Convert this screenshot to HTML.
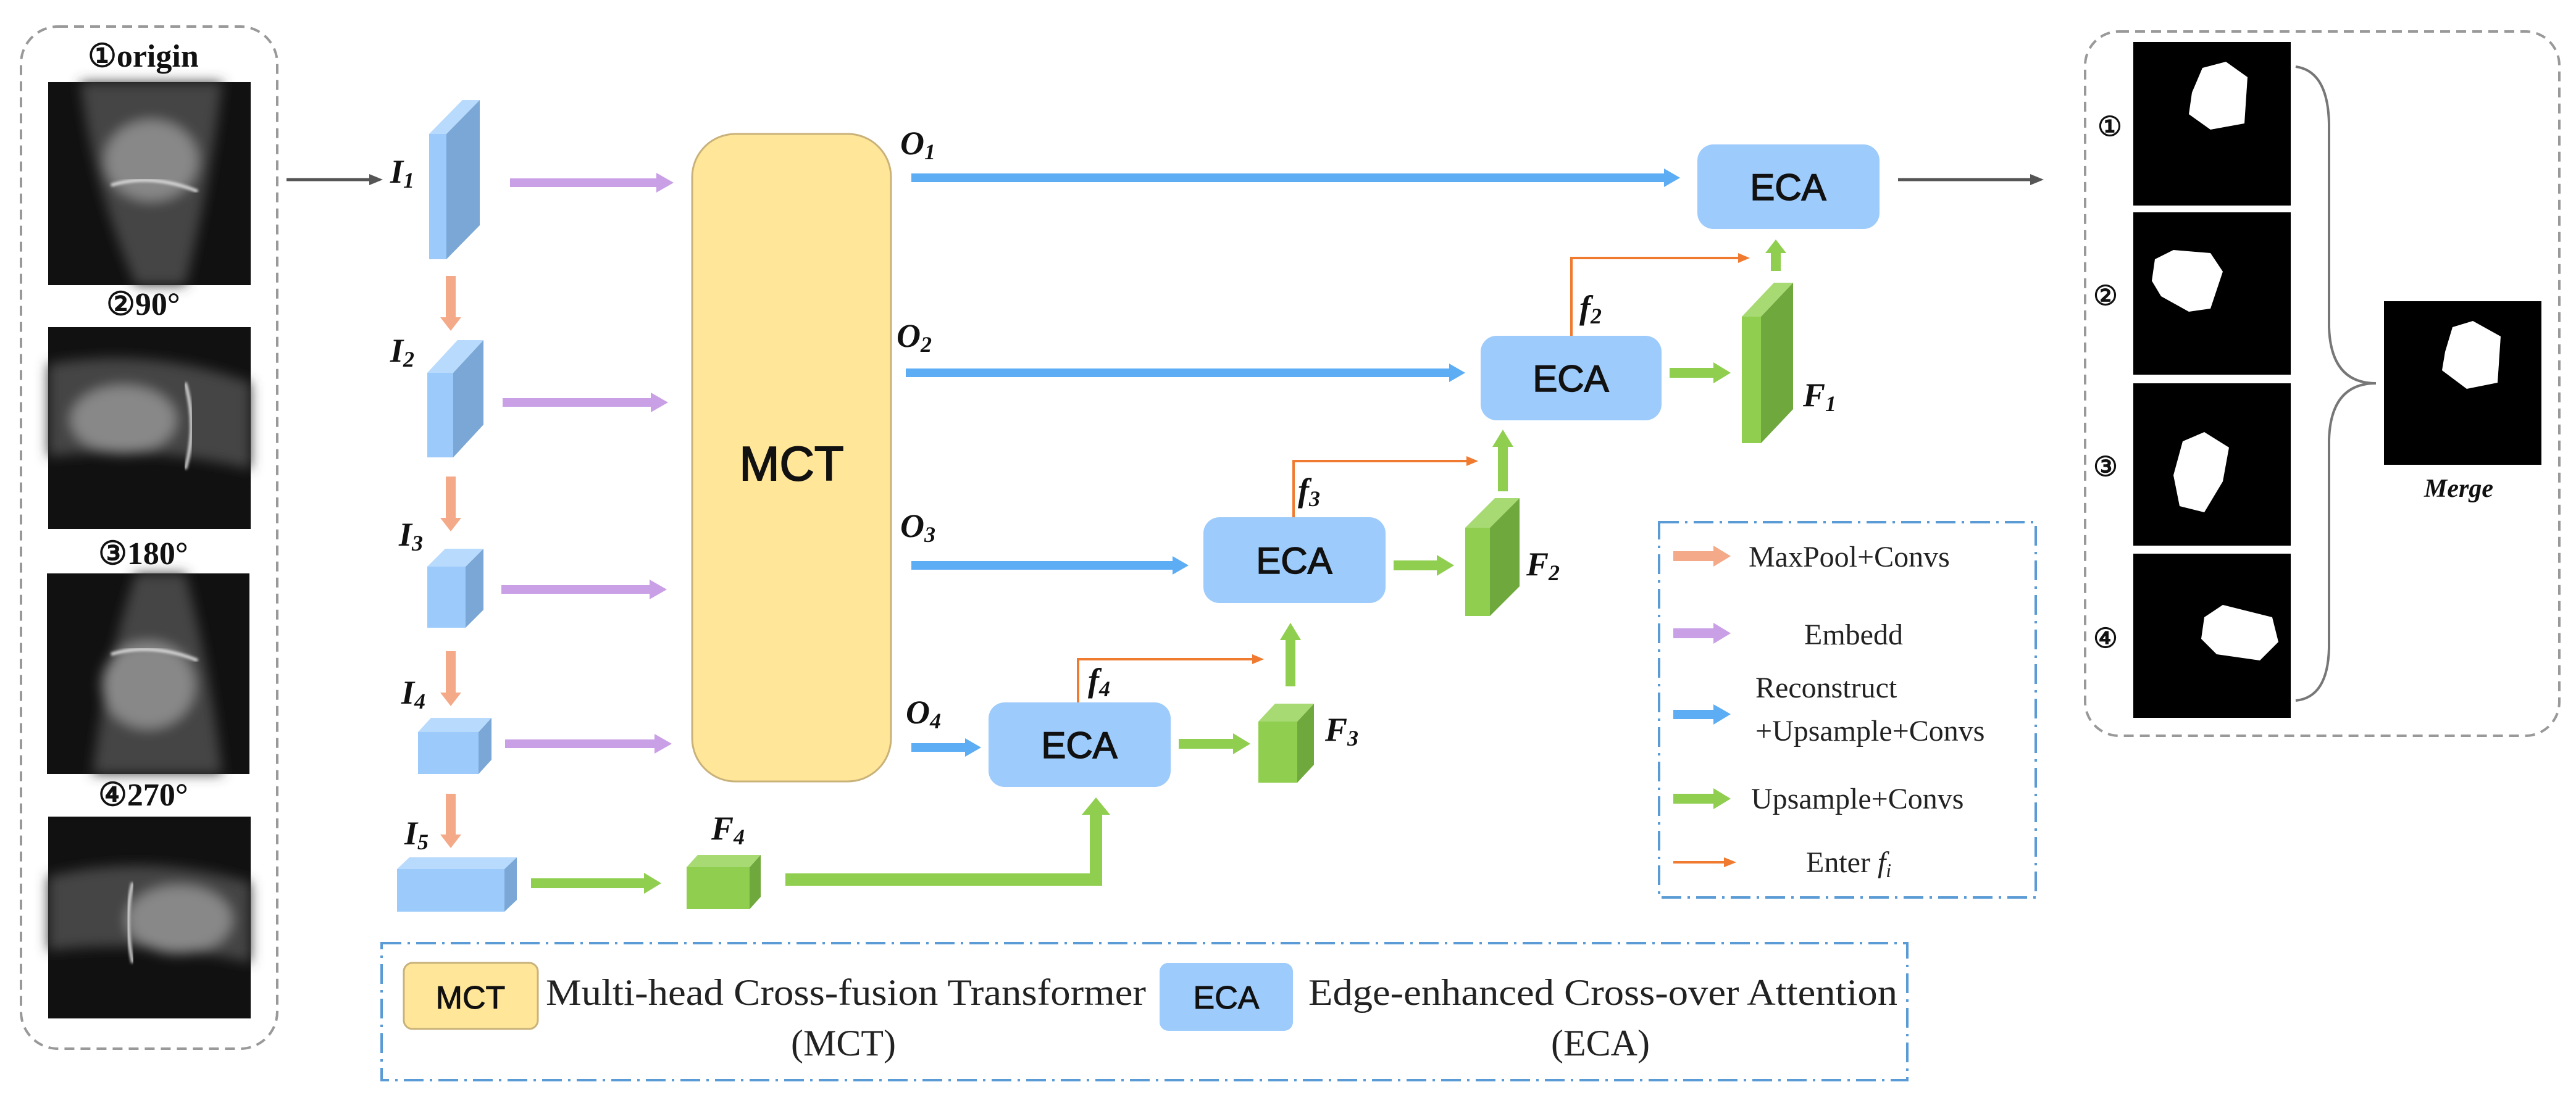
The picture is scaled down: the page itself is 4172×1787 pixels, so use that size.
<!DOCTYPE html>
<html><head><meta charset="utf-8"><style>html,body{margin:0;padding:0;background:#fff}svg{display:block}</style></head>
<body>
<svg xmlns="http://www.w3.org/2000/svg" width="4172" height="1787" viewBox="0 0 4172 1787">
<defs>
<filter id="bl" x="-20%" y="-20%" width="140%" height="140%"><feGaussianBlur stdDeviation="10"/></filter>
<filter id="bl2"><feGaussianBlur stdDeviation="2"/></filter>
</defs>
<rect width="4172" height="1787" fill="#fff"/>

<!-- Left dashed box -->
<rect x="34" y="43" width="415" height="1656" rx="60" fill="none" stroke="#999" stroke-width="4" stroke-dasharray="16 10"/>
<g font-family="Liberation Serif, serif" font-weight="bold" font-size="52" fill="#111" text-anchor="middle">
<text x="232" y="108">①origin</text>
<text x="232" y="510">②90°</text>
<text x="232" y="914">③180°</text>
<text x="232" y="1305">④270°</text>
</g>
<!-- MRI images -->
<g>
<rect x="78" y="133" width="328" height="329" fill="#111"/>
<g filter="url(#bl)"><path d="M130 133 Q150 300 220 462 L300 462 Q340 300 360 133 Z" fill="#444"/><ellipse cx="245" cy="260" rx="75" ry="65" fill="#888"/></g>
<path d="M180 300 Q245 280 320 310" stroke="#ddd" stroke-width="5" fill="none" filter="url(#bl2)"/>
<rect x="78" y="530" width="328" height="327" fill="#111"/>
<g filter="url(#bl)"><path d="M78 590 Q240 560 406 620 L406 760 Q240 720 78 740 Z" fill="#444"/><ellipse cx="200" cy="680" rx="85" ry="55" fill="#888"/></g>
<path d="M300 620 Q320 690 300 760" stroke="#ddd" stroke-width="5" fill="none" filter="url(#bl2)"/>
<rect x="76" y="929" width="328" height="325" fill="#111"/>
<g filter="url(#bl)"><path d="M150 1254 Q170 1080 220 929 L300 929 Q340 1080 360 1254 Z" fill="#444"/><ellipse cx="240" cy="1110" rx="75" ry="70" fill="#888"/></g>
<path d="M180 1060 Q245 1040 320 1070" stroke="#ddd" stroke-width="5" fill="none" filter="url(#bl2)"/>
<rect x="78" y="1323" width="328" height="327" fill="#111"/>
<g filter="url(#bl)"><path d="M78 1420 Q240 1380 406 1430 L406 1560 Q240 1520 78 1540 Z" fill="#444"/><ellipse cx="290" cy="1490" rx="85" ry="55" fill="#888"/></g>
<path d="M215 1430 Q200 1490 215 1560" stroke="#ddd" stroke-width="5" fill="none" filter="url(#bl2)"/>
</g>

<!-- gray arrow in -->
<line x1="464" y1="291" x2="600" y2="291" stroke="#555" stroke-width="5"/>
<polygon points="598,282 620,291 598,300" fill="#555"/>

<!-- Encoder cuboids -->
<g>
<rect x="695" y="217" width="28" height="203" fill="#9CCBFB"/><polygon points="723,217 777,162 777,365 723,420" fill="#7BA7D6"/><polygon points="695,217 723,217 777,162 749,162" fill="#B8DAFC"/>
<rect x="692" y="604" width="42" height="137" fill="#9CCBFB"/><polygon points="734,604 783,551 783,688 734,741" fill="#7BA7D6"/><polygon points="692,604 734,604 783,551 741,551" fill="#B8DAFC"/>
<rect x="692" y="918" width="62" height="99" fill="#9CCBFB"/><polygon points="754,918 783,889 783,988 754,1017" fill="#7BA7D6"/><polygon points="692,918 754,918 783,889 721,889" fill="#B8DAFC"/>
<rect x="677" y="1186" width="98" height="68" fill="#9CCBFB"/><polygon points="775,1186 796,1163 796,1231 775,1254" fill="#7BA7D6"/><polygon points="677,1186 775,1186 796,1163 698,1163" fill="#B8DAFC"/>
<rect x="643" y="1408" width="174" height="69" fill="#9CCBFB"/><polygon points="817,1408 837,1389 837,1458 817,1477" fill="#7BA7D6"/><polygon points="643,1408 817,1408 837,1389 663,1389" fill="#B8DAFC"/>
</g>
<!-- Green cuboids -->
<g>
<rect x="1112" y="1405" width="102" height="68" fill="#8FCE4E"/><polygon points="1214,1405 1232,1385 1232,1453 1214,1473" fill="#6FA83C"/><polygon points="1112,1405 1214,1405 1232,1385 1130,1385" fill="#A8DA74"/>
<rect x="2038" y="1169" width="63" height="99" fill="#8FCE4E"/><polygon points="2101,1169 2128,1140 2128,1239 2101,1268" fill="#6FA83C"/><polygon points="2038,1169 2101,1169 2128,1140 2065,1140" fill="#A8DA74"/>
<rect x="2373" y="855" width="40" height="143" fill="#8FCE4E"/><polygon points="2413,855 2461,807 2461,950 2413,998" fill="#6FA83C"/><polygon points="2373,855 2413,855 2461,807 2421,807" fill="#A8DA74"/>
<rect x="2821" y="513" width="31" height="205" fill="#8FCE4E"/><polygon points="2852,513 2904,458 2904,663 2852,718" fill="#6FA83C"/><polygon points="2821,513 2852,513 2904,458 2873,458" fill="#A8DA74"/>
</g>

<!-- labels -->
<g font-family="Liberation Serif, serif" font-style="italic" font-weight="bold" font-size="54" fill="#111">
<text x="632" y="296">I<tspan font-size="36" dy="8">1</tspan></text>
<text x="632" y="586">I<tspan font-size="36" dy="8">2</tspan></text>
<text x="646" y="884">I<tspan font-size="36" dy="8">3</tspan></text>
<text x="650" y="1140">I<tspan font-size="36" dy="8">4</tspan></text>
<text x="655" y="1368">I<tspan font-size="36" dy="8">5</tspan></text>
<text x="1152" y="1360">F<tspan font-size="36" dy="8">4</tspan></text>
<text x="1458" y="250">O<tspan font-size="36" dy="8">1</tspan></text>
<text x="1452" y="562">O<tspan font-size="36" dy="8">2</tspan></text>
<text x="1458" y="870">O<tspan font-size="36" dy="8">3</tspan></text>
<text x="1467" y="1172">O<tspan font-size="36" dy="8">4</tspan></text>
<text x="2146" y="1200">F<tspan font-size="36" dy="8">3</tspan></text>
<text x="2472" y="932">F<tspan font-size="36" dy="8">2</tspan></text>
<text x="2920" y="658">F<tspan font-size="36" dy="8">1</tspan></text>
<text x="1762" y="1120">f<tspan font-size="36" dy="8">4</tspan></text>
<text x="2102" y="812">f<tspan font-size="36" dy="8">3</tspan></text>
<text x="2558" y="516">f<tspan font-size="36" dy="8">2</tspan></text>
</g>

<!-- Purple arrows -->
<g fill="#C9A0E6">
<polygon points="826,289 1063,289 1063,280 1091,296 1063,312 1063,303 826,303"/>
<polygon points="814,645 1054,645 1054,636 1082,652 1054,668 1054,659 814,659"/>
<polygon points="812,948 1052,948 1052,939 1080,955 1052,971 1052,962 812,962"/>
<polygon points="818,1198 1060,1198 1060,1189 1088,1205 1060,1221 1060,1212 818,1212"/>
</g>
<!-- Orange down arrows -->
<g fill="#F4A988">
<polygon points="722,447 738,447 738,514 747,514 730,536 713,514 722,514"/>
<polygon points="722,772 738,772 738,839 747,839 730,861 713,839 722,839"/>
<polygon points="722,1055 738,1055 738,1122 747,1122 730,1144 713,1122 722,1122"/>
<polygon points="722,1286 738,1286 738,1352 747,1352 730,1374 713,1352 722,1352"/>
</g>

<!-- MCT -->
<rect x="1121" y="217" width="322" height="1049" rx="70" fill="#FFE699" stroke="#C9B27A" stroke-width="3"/>
<text x="1282" y="778" font-family="Liberation Sans, sans-serif" font-size="78" fill="#111" stroke="#111" stroke-width="2" text-anchor="middle">MCT</text>

<!-- Blue arrows -->
<g fill="#5DADF5">
<polygon points="1476,281 2695,281 2695,273 2721,288 2695,303 2695,295 1476,295"/>
<polygon points="1467,597 2347,597 2347,589 2373,604 2347,619 2347,611 1467,611"/>
<polygon points="1476,909 1899,909 1899,901 1925,916 1899,931 1899,923 1476,923"/>
<polygon points="1476,1204 1563,1204 1563,1196 1589,1211 1563,1226 1563,1218 1476,1218"/>
</g>

<!-- ECA boxes -->
<g fill="#9DCBFB">
<rect x="1601" y="1138" width="295" height="137" rx="26"/>
<rect x="1949" y="838" width="295" height="139" rx="26"/>
<rect x="2398" y="544" width="293" height="137" rx="26"/>
<rect x="2749" y="234" width="295" height="137" rx="26"/>
</g>
<g font-family="Liberation Sans, sans-serif" font-size="60" fill="#111" stroke="#111" stroke-width="1.5" text-anchor="middle">
<text x="1748" y="1228">ECA</text>
<text x="2096" y="929">ECA</text>
<text x="2544" y="634">ECA</text>
<text x="2896" y="324">ECA</text>
</g>

<!-- Green arrows -->
<g fill="#8FCE4E">
<polygon points="860,1423 1043,1423 1043,1414 1071,1431 1043,1448 1043,1439 860,1439"/>
<polygon points="1272,1415 1765,1415 1765,1320 1752,1320 1775,1292 1798,1320 1785,1320 1785,1435 1272,1435"/>
<polygon points="1909,1197 1997,1197 1997,1188 2025,1205 1997,1222 1997,1213 1909,1213"/>
<polygon points="2082,1112 2098,1112 2098,1037 2107,1037 2090,1009 2073,1037 2082,1037"/>
<polygon points="2257,908 2327,908 2327,899 2355,916 2327,933 2327,924 2257,924"/>
<polygon points="2426,796 2442,796 2442,724 2451,724 2434,696 2417,724 2426,724"/>
<polygon points="2704,596 2775,596 2775,587 2803,604 2775,621 2775,612 2704,612"/>
<polygon points="2868,439 2884,439 2884,410 2893,410 2876,388 2859,410 2868,410"/>
</g>

<!-- Orange thin lines -->
<g stroke="#F07A30" stroke-width="4" fill="none">
<polyline points="1746,1138 1746,1068 2032,1068"/>
<polyline points="2095,838 2095,747 2379,747"/>
<polyline points="2545,544 2545,418 2819,418"/>
</g>
<g fill="#F07A30">
<polygon points="2028,1060 2047,1068 2028,1076"/>
<polygon points="2375,739 2394,747 2375,755"/>
<polygon points="2815,410 2834,418 2815,426"/>
</g>

<!-- output gray arrow -->
<line x1="3074" y1="291" x2="3290" y2="291" stroke="#555" stroke-width="5"/>
<polygon points="3288,282 3310,291 3288,300" fill="#555"/>

<!-- Right dashed box -->
<rect x="3377" y="51" width="768" height="1141" rx="55" fill="none" stroke="#999" stroke-width="4" stroke-dasharray="16 10"/>
<g font-family="Liberation Serif, serif" font-weight="bold" font-size="44" fill="#111" text-anchor="middle">
<text x="3417" y="220">①</text><text x="3410" y="494">②</text><text x="3410" y="771">③</text><text x="3410" y="1049">④</text>
</g>
<g>
<rect x="3455" y="68" width="255" height="265" fill="#000"/>
<polygon points="3567,110 3605,100 3640,125 3635,200 3580,210 3545,185 3550,150" fill="#fff"/>
<rect x="3455" y="344" width="255" height="263" fill="#000"/>
<polygon points="3490,420 3520,405 3580,410 3600,440 3580,500 3545,505 3500,480 3485,455" fill="#fff"/>
<rect x="3455" y="621" width="255" height="263" fill="#000"/>
<polygon points="3535,715 3570,700 3610,725 3600,780 3570,830 3530,820 3520,770" fill="#fff"/>
<rect x="3455" y="897" width="255" height="266" fill="#000"/>
<polygon points="3570,1000 3600,980 3680,1000 3690,1040 3660,1070 3590,1060 3565,1035" fill="#fff"/>
<rect x="3861" y="488" width="255" height="265" fill="#000"/>
<polygon points="3972,530 4005,520 4050,545 4045,620 3995,630 3955,600 3960,570" fill="#fff"/>
</g>
<path d="M3718 108 Q3770 115 3772 200 L3772 530 Q3775 621 3848 621 Q3775 621 3772 712 L3772 1050 Q3770 1130 3718 1135" fill="none" stroke="#777" stroke-width="4"/>
<text x="3982" y="805" font-family="Liberation Serif, serif" font-style="italic" font-weight="bold" font-size="42" fill="#111" text-anchor="middle">Merge</text>

<!-- Right legend -->
<rect x="2687" y="846" width="610" height="608" fill="none" stroke="#5B9BD5" stroke-width="4" stroke-dasharray="32 10 4 10"/>
<polygon points="2710,893 2775,893 2775,884 2803,901 2775,918 2775,909 2710,909" fill="#F4A988"/>
<polygon points="2710,1018 2775,1018 2775,1009 2803,1026 2775,1043 2775,1034 2710,1034" fill="#C9A0E6"/>
<polygon points="2710,1150 2775,1150 2775,1141 2803,1157 2775,1174 2775,1165 2710,1165" fill="#5DADF5"/>
<polygon points="2710,1286 2775,1286 2775,1277 2803,1294 2775,1311 2775,1302 2710,1302" fill="#8FCE4E"/>
<line x1="2710" y1="1397" x2="2795" y2="1397" stroke="#F07A30" stroke-width="4"/>
<polygon points="2792,1389 2812,1397 2792,1405" fill="#F07A30"/>
<g font-family="Liberation Serif, serif" font-size="48" fill="#222">
<text x="2832" y="918">MaxPool+Convs</text>
<text x="2922" y="1044">Embedd</text>
<text x="2843" y="1130">Reconstruct</text>
<text x="2843" y="1200">+Upsample+Convs</text>
<text x="2836" y="1310">Upsample+Convs</text>
<text x="2925" y="1413">Enter <tspan font-style="italic">f<tspan font-size="32" dy="8">i</tspan></tspan></text>
</g>

<!-- Bottom legend -->
<rect x="618" y="1528" width="2471" height="222" fill="none" stroke="#5B9BD5" stroke-width="4" stroke-dasharray="32 10 4 10"/>
<rect x="654" y="1560" width="217" height="107" rx="14" fill="#FFE699" stroke="#C9B27A" stroke-width="3"/>
<text x="762" y="1634" font-family="Liberation Sans, sans-serif" font-size="52" fill="#111" stroke="#111" stroke-width="1" text-anchor="middle">MCT</text>
<rect x="1878" y="1560" width="216" height="110" rx="14" fill="#9DCBFB"/>
<text x="1986" y="1634" font-family="Liberation Sans, sans-serif" font-size="52" fill="#111" stroke="#111" stroke-width="1" text-anchor="middle">ECA</text>
<g font-family="Liberation Serif, serif" font-size="60" fill="#222">
<text x="884" y="1628" textLength="972" lengthAdjust="spacingAndGlyphs">Multi-head Cross-fusion Transformer</text>
<text x="1281" y="1710">(MCT)</text>
<text x="2119" y="1628" textLength="954" lengthAdjust="spacingAndGlyphs">Edge-enhanced Cross-over Attention</text>
<text x="2512" y="1710">(ECA)</text>
</g>
</svg>
</body></html>
